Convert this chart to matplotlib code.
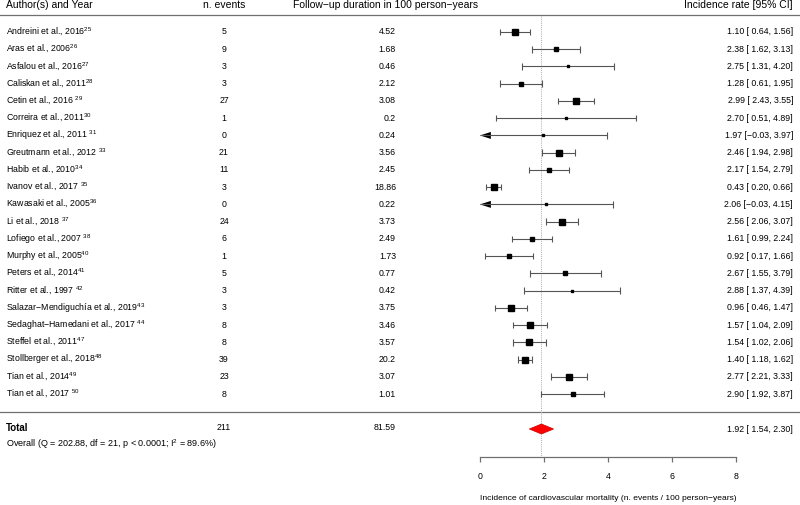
import numpy as np
import matplotlib
matplotlib.use("Agg")
import matplotlib.pyplot as plt
from matplotlib.patches import Polygon

plt.rcParams['font.family'] = ['Liberation Sans', 'DejaVu Sans']
plt.rcParams['mathtext.default'] = 'regular'

# study data
studies = ["Andreini et al., 2016", "Aras et al., 2006", "Asfalou et al., 2016",
           "Caliskan et al., 2011", "Cetin et al., 2016 ", "Correira et al., 2011",
           "Enriquez et al., 2011 ", "Greutmann et al., 2012 ", "Habib et al., 2010",
           "Ivanov et al., 2017 ", "Kawasaki et al., 2005", "Li et al., 2018 ",
           "Lofiego et al., 2007 ", "Murphy et al., 2005", "Peters et al., 2014",
           "Ritter et al., 1997 ", "Salazar\u2212Mendiguch\u00eda et al., 2019",
           "Sedaghat\u2212Hamedani et al., 2017 ", "Steffel et al., 2011",
           "Stollberger et al., 2018", "Tian et al., 2014", "Tian et al., 2017 "]
refs = [25, 26, 27, 28, 29, 30, 31, 33, 34, 35, 36, 37, 38, 40, 41, 42, 43, 44, 47, 48, 49, 50]
n_events = [5, 9, 3, 3, 27, 1, 0, 21, 11, 3, 0, 24, 6, 1, 5, 3, 3, 8, 8, 39, 23, 8]
follow_up = ["4.52", "1.68", "0.46", "2.12", "3.08", "0.2", "0.24", "3.56", "2.45", "18.86",
             "0.22", "3.73", "2.49", "1.73", "0.77", "0.42", "3.75", "3.46", "3.57", "20.2",
             "3.07", "1.01"]
rate = [1.10, 2.38, 2.75, 1.28, 2.99, 2.70, 1.97, 2.46, 2.17, 0.43, 2.06, 2.56, 1.61,
        0.92, 2.67, 2.88, 0.96, 1.57, 1.54, 1.40, 2.77, 2.90]
ci_low = [0.64, 1.62, 1.31, 0.61, 2.43, 0.51, -0.03, 1.94, 1.54, 0.20, -0.03, 2.06, 0.99,
          0.17, 1.55, 1.37, 0.46, 1.04, 1.02, 1.18, 2.21, 1.92]
ci_high = [1.56, 3.13, 4.20, 1.95, 3.55, 4.89, 3.97, 2.98, 2.79, 0.66, 4.15, 3.07, 2.24,
           1.66, 3.79, 4.39, 1.47, 2.09, 2.06, 1.62, 3.33, 3.87]

total_events = 211
total_follow = "81.59"
pooled = 1.92
pooled_low = 1.54
pooled_high = 2.30
x_ticks = [0, 2, 4, 6, 8]

# layout: x in data units (0..8 -> 480..736 px), y in pixels from the top
fig = plt.figure(figsize=(8, 5.05), dpi=100)
ax = fig.add_axes([0, 0, 1, 1])
ax.set_xlim(-15, 10)
ax.set_ylim(505, 0)

row_y = 32 + 17.24 * np.arange(len(studies))
tf = ax.get_yaxis_transform()
fs = 6.3
hfs = 7.5
grey = "#707070"

# headers and separators
ax.text(6 / 800, 5.5, "Author(s) and Year", transform=tf, fontsize=hfs, va="center")
ax.text(224 / 800, 5.5, "n. events", transform=tf, fontsize=hfs, va="center", ha="center")
ax.text(386 / 800, 5.5, "Follow\u2212up duration in 100 person\u2212years", transform=tf,
        fontsize=hfs, va="center", ha="center")
ax.text(793 / 800, 5.5, "Incidence rate [95% CI]", transform=tf, fontsize=hfs,
        va="center", ha="right")
ax.axhline(14.7, color=grey, lw=0.9)
ax.axhline(411.7, color=grey, lw=0.9)

# reference line at pooled estimate
ax.vlines(pooled, 15.5, 456, color="#aaaaaa", lw=0.7, linestyles=(0, (1, 1.2)))

# sizes of squares from random-effects weights
ci_low_a = np.array(ci_low)
ci_high_a = np.array(ci_high)
se = (ci_high_a - ci_low_a) / 3.92
w = 1 / (se ** 2 + 0.18)
psize = 0.5 + (w - w.min()) / (w.max() - w.min())
side_pt = psize * 4.2 * 0.72

for i, name in enumerate(studies):
    y = row_y[i]
    ax.text(6 / 800, y, name + "$^{" + str(refs[i]) + "}$", transform=tf, fontsize=fs, va="center")
    ax.text(224 / 800, y, str(n_events[i]), transform=tf, fontsize=fs, va="center", ha="center")
    ax.text(396 / 800, y, follow_up[i], transform=tf, fontsize=fs, va="center", ha="right")
    lo_s = ("\u2212%.2f" % -ci_low[i]) if ci_low[i] < 0 else (" %.2f" % ci_low[i])
    ax.text(793 / 800, y, "%.2f [%s, %.2f]" % (rate[i], lo_s, ci_high[i]), transform=tf,
            fontsize=fs, va="center", ha="right")

    lo = max(ci_low[i], 0)
    ax.hlines(y, lo, ci_high[i], color="#555555", lw=0.8)
    ax.vlines(ci_high[i], y - 3.3, y + 3.3, color="#555555", lw=0.8)
    if ci_low[i] < 0:
        ax.add_patch(Polygon([[lo, y], [lo + 0.34, y - 3.5], [lo + 0.34, y + 3.5]],
                             closed=True, color="black", lw=0))
    else:
        ax.vlines(lo, y - 3.3, y + 3.3, color="#555555", lw=0.8)
    ax.plot(rate[i], y, marker="s", color="black", markersize=side_pt[i], zorder=3)

# total row
ax.text(6 / 800, 428, "Total", transform=tf, fontsize=7, fontweight="bold", va="center")
ax.text(224 / 800, 428, str(total_events), transform=tf, fontsize=fs, va="center", ha="center")
ax.text(396 / 800, 428, total_follow, transform=tf, fontsize=fs, va="center", ha="right")
ax.text(793 / 800, 429, "%.2f [ %.2f, %.2f]" % (pooled, pooled_low, pooled_high),
        transform=tf, fontsize=fs, va="center", ha="right")
ax.text(6 / 800, 444, "Overall (Q = 202.88, df = 21, p < 0.0001; I$^2$ = 89.6%)",
        transform=tf, fontsize=6.5, va="center")
ax.add_patch(Polygon([[pooled_low, 429], [pooled, 424], [pooled_high, 429], [pooled, 434]],
                     closed=True, facecolor="red", edgecolor="#cc0000", lw=0.5, zorder=3))

# x axis
for s in ["top", "left", "right"]:
    ax.spines[s].set_visible(False)
ax.spines["bottom"].set_position(("data", 456.5))
ax.spines["bottom"].set_bounds(0, 8)
ax.spines["bottom"].set_color(grey)
ax.spines["bottom"].set_linewidth(0.9)
ax.set_xticks(x_ticks)
ax.set_xticklabels([str(t) for t in x_ticks])
ax.tick_params(axis="x", direction="out", length=3.3, width=0.9, color=grey,
               labelsize=fs, pad=8)
ax.set_yticks([])
ax.text(4, 498, "Incidence of cardiovascular mortality (n. events / 100 person\u2212years)",
        fontsize=6.1, ha="center", va="center")

fig.savefig("out.png", dpi=100)
